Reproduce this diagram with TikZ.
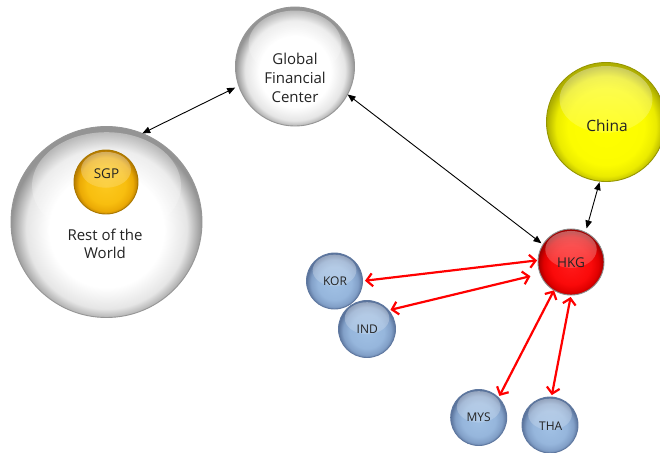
\documentclass[tikz,border=0pt]{standalone}
\usepackage{fontspec}
\setmainfont{Open Sans}
\usetikzlibrary{arrows.meta,fadings,calc}

\definecolor{txt}{RGB}{35,35,35}
\definecolor{greyrim}{RGB}{150,150,150}
\definecolor{goldrim}{RGB}{170,120,0}
\definecolor{yellowrim}{RGB}{150,150,0}
\definecolor{redrim}{RGB}{140,140,140}
\definecolor{bluerim}{RGB}{95,120,160}
\definecolor{redline}{RGB}{255,0,0}

\pgfdeclareradialshading{greysph}{\pgfpoint{0bp}{-3bp}}{color(0bp)=(white); color(15bp)=(white); color(21bp)=(black!10); color(25bp)=(black!42); color(50bp)=(black!42)}
\pgfdeclareradialshading{goldsph}{\pgfpoint{0bp}{-3bp}}{color(0bp)=(rgb,255:red,252;green,200;blue,30); color(15bp)=(rgb,255:red,248;green,190;blue,15); color(21bp)=(rgb,255:red,235;green,170;blue,5); color(25bp)=(rgb,255:red,185;green,125;blue,0); color(50bp)=(rgb,255:red,185;green,125;blue,0)}
\pgfdeclareradialshading{yellowsph}{\pgfpoint{0bp}{-3bp}}{color(0bp)=(rgb,255:red,255;green,255;blue,0); color(16bp)=(rgb,255:red,252;green,252;blue,0); color(21bp)=(rgb,255:red,235;green,235;blue,0); color(25bp)=(rgb,255:red,175;green,175;blue,0); color(50bp)=(rgb,255:red,175;green,175;blue,0)}
\pgfdeclareradialshading{redsph}{\pgfpoint{0bp}{-3bp}}{color(0bp)=(rgb,255:red,255;green,25;blue,25); color(15bp)=(rgb,255:red,250;green,10;blue,10); color(21bp)=(rgb,255:red,225;green,0;blue,0); color(25bp)=(rgb,255:red,160;green,0;blue,0); color(50bp)=(rgb,255:red,160;green,0;blue,0)}
\pgfdeclareradialshading{bluesph}{\pgfpoint{0bp}{-3bp}}{color(0bp)=(rgb,255:red,160;green,192;blue,228); color(15bp)=(rgb,255:red,150;green,182;blue,220); color(21bp)=(rgb,255:red,130;green,160;blue,200); color(25bp)=(rgb,255:red,90;green,115;blue,155); color(50bp)=(rgb,255:red,90;green,115;blue,155)}

\tikzfading[name=glossfade, top color=transparent!62, bottom color=transparent!100]

\tikzset{
  sph/.style n args={3}{circle, inner sep=0pt, outer sep=0pt,
    minimum size={2*#2*1pt}, shading=#1, draw=#3, line width=0.9pt,
    path picture={\fill[white, path fading=glossfade]
      ($(path picture bounding box.center)+(0,{-0.38*#2})$)
      ellipse [x radius={0.78*#2*1pt}, y radius={0.56*#2*1pt}];}},
  lbl/.style={text=txt, align=center, inner sep=0pt},
  blk/.style={draw=black, line width=0.9pt,
    {Triangle[length=8pt,width=6.5pt]}-{Triangle[length=8pt,width=6.5pt]}},
  redarr/.style={draw=redline, line width=2.2pt, line join=miter,
    {Straight Barb[length=6pt,width=13pt]}-{Straight Barb[length=6pt,width=13pt]}}
}

\begin{document}
\begin{tikzpicture}[x=1pt,y=-1pt]
\useasboundingbox (0,0) rectangle (660,452);
\fill[white] (0,0) rectangle (660,452);

% spheres
\node[sph={greysph}{59.5}{greyrim}] (gfc) at (295,66.5) {};
\node[sph={greysph}{95.5}{greyrim}] (row) at (106.5,222) {};
\node[sph={goldsph}{32}{goldrim}] (sgp) at (106,182) {};
\node[sph={yellowsph}{59.5}{yellowrim}] (china) at (606,122) {};
\node[sph={redsph}{33}{redrim}] (hkg) at (571,262) {};
\node[sph={bluesph}{28}{bluerim}] (kor) at (334.5,281) {};
\node[sph={bluesph}{28.5}{bluerim}] (ind) at (367,329) {};
\node[sph={bluesph}{28}{bluerim}] (mys) at (478.7,417.5) {};
\node[sph={bluesph}{28}{bluerim}] (tha) at (550,425) {};

% labels
\node[lbl, font=\fontsize{15}{19}\selectfont] (gfct) at (295,78) {Global\\Financial\\Center};
\node[lbl, font=\fontsize{15}{18.3}\selectfont] (rowt) at (105,244) {Rest of the\\World};
\node[lbl, font=\fontsize{13.5}{15}\selectfont] (sgpt) at (106.5,174) {SGP};
\node[lbl, font=\fontsize{15.5}{17}\selectfont] (chinat) at (607,126) {China};
\node[lbl, font=\fontsize{13.5}{15}\selectfont] (hkgt) at (571,262.3) {HKG};
\node[lbl, font=\fontsize{12}{14}\selectfont] (kort) at (335,281.7) {KOR};
\node[lbl, font=\fontsize{12}{14}\selectfont] (indt) at (367.3,329.3) {IND};
\node[lbl, font=\fontsize{12}{14}\selectfont] (myst) at (478.7,417.7) {MYS};
\node[lbl, font=\fontsize{12}{14}\selectfont] (that) at (550.7,426) {THA};

% black connectors
\draw[blk, shorten <=4pt] (gfc.199) -- (row.68);
\draw[blk, shorten >=2pt] (gfc.332) -- (hkg.148);
\draw[blk, shorten <=1pt, shorten >=4pt] (china.264) -- (hkg.64);

% red connectors
\draw[redarr, shorten <=2.5pt, shorten >=1pt] (kor.0) -- (hkg.177);
\draw[redarr, shorten <=2pt, shorten >=10pt] (ind.41) -- (hkg.201);
\draw[redarr, shorten <=2pt] (mys.45) -- (hkg.239);
\draw[redarr, shorten <=2pt, shorten >=2pt] (tha.87) -- (hkg.270);
\end{tikzpicture}
\end{document}
